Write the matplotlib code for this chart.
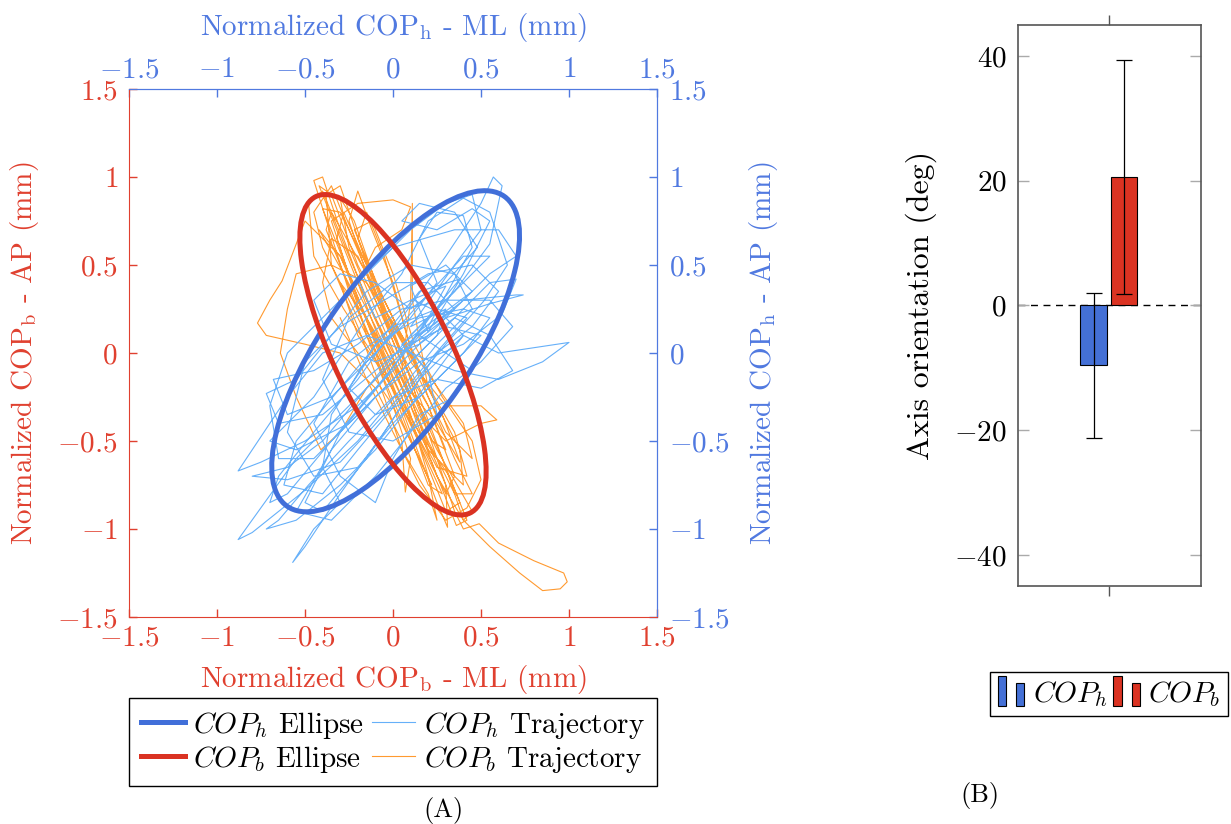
import numpy as np
import matplotlib
matplotlib.use('Agg')
import matplotlib.pyplot as plt
from matplotlib.patches import Ellipse, Rectangle
from matplotlib.legend_handler import HandlerBase

plt.rcParams['font.family'] = 'serif'
plt.rcParams['font.serif'] = ['cmr10', 'DejaVu Serif']
plt.rcParams['mathtext.fontset'] = 'cm'
plt.rcParams['axes.unicode_minus'] = False

# ---- panel A data: ellipses (center x, center y, full width, full height, angle deg)
ell_h = (0.015, 0.01, 2.15, 0.83, 55.0)
ell_b = (0.0, -0.01, 2.0, 0.66, 116.0)

# COP_h trajectory (approx.)
traj_h = [
    (0.10, 0.10), (0.35, 0.35), (0.55, 0.62), (0.62, 0.95), (0.57, 1.00), (0.50, 0.85),
    (0.30, 0.55), (0.05, 0.20), (-0.20, -0.15), (-0.45, -0.45), (-0.65, -0.70), (-0.70, -0.85),
    (-0.60, -0.80), (-0.35, -0.50), (-0.10, -0.20), (0.15, 0.10), (0.40, 0.30), (0.70, 0.33),
    (0.74, 0.33), (0.55, 0.28), (0.30, 0.20), (0.05, 0.00), (-0.25, -0.30), (-0.55, -0.60),
    (-0.88, -1.06), (-0.80, -1.02), (-0.50, -0.78), (-0.20, -0.50), (0.05, -0.20), (0.25, 0.05),
    (0.45, 0.25), (0.35, 0.45), (0.10, 0.50), (-0.15, 0.35), (-0.35, 0.10), (-0.55, -0.15),
    (-0.72, -0.23), (-0.65, -0.40), (-0.40, -0.35), (-0.10, -0.10), (0.20, 0.15), (0.45, 0.60),
    (0.40, 0.78), (0.25, 0.80), (0.15, 0.65), (0.25, 0.40), (0.10, 0.20), (-0.15, -0.05),
    (-0.35, -0.35), (-0.40, -0.65), (-0.30, -0.85), (-0.45, -1.00), (-0.57, -1.19), (-0.50, -1.10),
    (-0.30, -0.80), (-0.05, -0.45), (0.15, -0.15), (0.40, 0.10), (0.60, 0.00), (0.80, 0.03),
    (1.00, 0.06), (0.85, -0.05), (0.60, -0.15), (0.35, -0.10), (0.10, 0.00), (-0.15, 0.10),
    (-0.40, 0.00), (-0.60, -0.25), (-0.88, -0.67), (-0.75, -0.62), (-0.50, -0.50), (-0.20, -0.30),
    (0.05, -0.05), (0.30, 0.20), (0.55, 0.45), (0.70, 0.55), (0.60, 0.70), (0.35, 0.70),
    (0.00, 0.60), (-0.20, 0.42), (-0.10, 0.20), (0.10, 0.30), (0.30, 0.38), (0.20, 0.20),
    (-0.05, -0.15), (-0.30, -0.45), (-0.50, -0.85), (-0.40, -0.90), (-0.15, -0.60), (0.05, -0.30),
    (0.25, 0.00), (0.45, 0.15), (0.60, 0.35), (0.45, 0.50), (0.20, 0.45), (-0.05, 0.30),
    (-0.30, 0.15), (-0.50, -0.05), (-0.60, -0.45), (-0.45, -0.70), (-0.20, -0.65), (0.00, -0.40),
    (0.20, -0.20), (0.40, 0.00), (0.55, 0.20), (0.40, 0.25), (0.15, 0.20), (-0.10, 0.05),
    (-0.25, -0.20), (-0.10, -0.35), (0.15, -0.25), (0.35, -0.05), (0.50, 0.10), (0.30, 0.15),
    (0.10, 0.05), (0.28, 0.30), (0.38, 0.42), (0.15, 0.35), (-0.05, 0.10), (-0.30, -0.20),
    (-0.55, -0.50), (-0.62, -0.75), (-0.40, -0.80), (-0.20, -0.55), (0.05, -0.25), (0.30, 0.05),
    (0.52, 0.30), (0.65, 0.50), (0.55, 0.80), (0.40, 0.88), (0.20, 0.75), (0.05, 0.45),
    (-0.15, 0.20), (-0.45, -0.25), (-0.70, -0.50), (-0.55, -0.55), (-0.25, -0.40), (0.00, -0.15),
    (0.25, 0.10), (0.30, 0.25), (0.10, 0.15), (0.35, 0.50), (0.50, 0.70), (0.45, 0.90),
    (0.30, 0.85), (0.10, 0.70), (-0.10, 0.50), (-0.35, 0.25), (-0.60, 0.00), (-0.70, -0.30),
    (-0.65, -0.60), (-0.45, -0.60), (-0.20, -0.35), (0.05, -0.10), (0.30, 0.15), (0.55, 0.40),
    (0.70, 0.42), (0.62, 0.22), (0.40, 0.05), (0.15, -0.05), (-0.10, -0.25), (-0.35, -0.55),
    (-0.55, -0.90), (-0.35, -0.95), (-0.10, -0.70), (0.10, -0.45), (0.30, -0.20), (0.50, -0.05),
    (0.68, 0.15), (0.55, 0.30), (0.30, 0.30), (0.05, 0.25), (-0.20, 0.05), (-0.45, -0.10),
    (-0.68, -0.15), (-0.60, -0.35), (-0.35, -0.25), (-0.10, 0.00), (0.15, 0.28), (0.40, 0.55),
    (0.55, 0.55), (0.35, 0.35), (0.10, 0.10), (-0.15, -0.20), (-0.40, -0.50), (-0.60, -0.65),
    (-0.80, -0.70), (-0.60, -0.72), (-0.30, -0.62), (-0.05, -0.35), (0.20, -0.05), (0.42, 0.20),
    (0.25, 0.25), (0.00, 0.15), (-0.25, -0.05), (-0.45, -0.40), (-0.30, -0.70), (-0.10, -0.85),
    (0.00, -0.60), (0.15, -0.35), (0.35, -0.25), (0.45, -0.10), (0.30, 0.00), (0.15, 0.10),
    (0.35, 0.25), (0.20, 0.40), (0.00, 0.40), (-0.25, 0.20), (-0.40, -0.15), (-0.25, -0.45),
    (0.00, -0.50), (0.25, -0.35), (0.20, -0.10), (0.05, 0.05), (0.25, 0.20), (0.45, 0.35),
    (0.30, 0.50), (0.10, 0.38), (0.20, 0.12), (0.40, 0.45), (0.55, 0.75), (0.45, 0.82),
    (0.25, 0.70), (0.05, 0.75), (0.15, 0.85), (0.35, 0.80), (0.48, 0.60), (0.30, 0.40),
    (0.10, 0.25), (-0.10, 0.40), (-0.30, 0.45), (-0.45, 0.30), (-0.35, 0.05), (-0.10, -0.05),
    (0.15, 0.05), (0.35, 0.20), (0.55, 0.10), (0.68, -0.10), (0.50, -0.20), (0.25, -0.15),
    (0.00, -0.25), (-0.25, -0.50), (-0.48, -0.75), (-0.65, -0.95), (-0.72, -1.00), (-0.55, -0.95),
    (-0.30, -0.75), (-0.10, -0.55), (0.10, -0.30), (0.25, -0.10), (0.40, 0.10), (0.28, 0.22),
    (0.12, 0.30),
]

# COP_b trajectory (approx.)
traj_b = [
    (0.00, 0.00), (-0.20, 0.40), (-0.38, 0.85), (-0.42, 0.95), (-0.35, 0.90), (-0.20, 0.50),
    (0.00, 0.10), (0.20, -0.30), (0.35, -0.70), (0.30, -0.80), (0.15, -0.50), (-0.05, -0.10),
    (-0.25, 0.35), (-0.45, 0.98), (-0.40, 1.00), (-0.30, 0.70), (-0.15, 0.30), (0.05, -0.15),
    (0.25, -0.55), (0.45, -0.90), (0.40, -0.95), (0.25, -0.70), (0.10, -0.30), (-0.10, 0.15),
    (-0.30, 0.55), (-0.50, 0.75), (-0.63, 0.41), (-0.70, 0.30), (-0.77, 0.17), (-0.72, 0.10),
    (-0.50, 0.05), (-0.30, 0.00), (-0.10, -0.20), (0.05, -0.50), (0.07, -0.79), (0.10, -0.60),
    (0.00, -0.30), (-0.15, 0.10), (-0.30, 0.60), (-0.35, 0.75), (-0.20, 0.85), (0.00, 0.87),
    (0.10, 0.83), (0.05, 0.70), (-0.10, 0.60), (-0.20, 0.40), (-0.05, 0.00), (0.15, -0.40),
    (0.30, -0.75), (0.31, -0.99), (0.25, -0.85), (0.10, -0.45), (-0.05, -0.05), (-0.20, 0.30),
    (-0.32, 0.65), (-0.28, 0.80), (-0.15, 0.50), (0.00, 0.20), (0.10, -0.05), (0.30, -0.30),
    (0.50, -0.30), (0.59, -0.38), (0.50, -0.40), (0.30, -0.50), (0.20, -0.40), (0.05, -0.10),
    (-0.10, 0.25), (-0.25, 0.60), (-0.30, 0.88), (-0.22, 0.75), (-0.08, 0.35), (0.05, 0.00),
    (0.20, -0.45), (0.35, -0.90), (0.40, -1.00), (0.49, -0.97), (0.60, -1.08), (0.80, -1.18),
    (0.97, -1.25), (0.99, -1.30), (0.95, -1.34), (0.85, -1.35), (0.72, -1.25), (0.55, -1.10),
    (0.40, -0.95), (0.30, -0.65), (0.15, -0.25), (0.00, 0.10), (-0.15, 0.45), (-0.35, 0.80),
    (-0.38, 0.70), (-0.20, 0.25), (-0.05, -0.10), (0.12, -0.45), (0.28, -0.80), (0.20, -0.75),
    (0.05, -0.35), (-0.10, 0.05), (-0.25, 0.45), (-0.40, 0.82), (-0.30, 0.80), (-0.10, 0.40),
    (0.10, 0.00), (0.20, -0.20), (0.11, 0.30), (0.11, 0.85), (0.10, 0.30), (0.05, -0.10),
    (0.20, -0.55), (0.40, -0.75), (0.38, -0.55), (0.20, -0.20), (0.00, 0.15), (-0.20, 0.55),
    (-0.35, 0.65), (-0.40, 0.40), (-0.35, 0.20), (-0.20, 0.00), (0.00, -0.30), (0.15, -0.60),
    (0.22, -0.75), (0.10, -0.50), (-0.05, -0.15), (-0.10, 0.00), (-0.25, 0.30), (-0.40, 0.60),
    (-0.45, 0.80), (-0.35, 0.95), (-0.25, 0.70), (-0.10, 0.35), (0.05, 0.00), (0.15, -0.30),
    (0.28, -0.60), (0.38, -0.85), (0.30, -0.90), (0.18, -0.60), (0.05, -0.25), (-0.10, 0.10),
    (-0.28, 0.45), (-0.42, 0.70), (-0.30, 0.55), (-0.15, 0.20), (0.00, -0.15), (0.12, -0.40),
    (0.25, -0.65), (0.42, -0.70), (0.35, -0.45), (0.15, -0.10), (-0.05, 0.25), (-0.20, 0.65),
    (-0.15, 0.80), (-0.05, 0.55), (0.05, 0.20), (0.15, -0.15), (0.30, -0.45), (0.45, -0.60),
    (0.40, -0.40), (0.22, -0.15), (0.05, 0.10), (-0.15, 0.40), (-0.35, 0.50), (-0.55, 0.45),
    (-0.60, 0.25), (-0.64, 0.00), (-0.55, -0.25), (-0.41, -0.55), (-0.30, -0.45), (-0.15, -0.20),
    (0.00, -0.05), (0.10, -0.35), (0.20, -0.70), (0.25, -0.95), (0.20, -0.80), (0.05, -0.55),
    (-0.05, -0.25), (-0.20, 0.15), (-0.35, 0.50), (-0.38, 0.90), (-0.30, 0.95), (-0.18, 0.60),
    (-0.05, 0.20), (0.10, -0.20), (0.22, -0.50), (0.30, -0.55), (0.20, -0.30), (0.05, -0.05),
    (-0.10, 0.30), (-0.25, 0.75), (-0.20, 0.92), (-0.12, 0.70), (0.00, 0.40), (0.08, 0.10),
    (0.20, -0.25), (0.35, -0.60), (0.45, -0.80), (0.35, -0.80), (0.20, -0.50), (0.05, -0.15),
    (-0.15, 0.20), (-0.30, 0.40), (-0.20, 0.10), (0.00, -0.20), (0.15, -0.45), (0.32, -0.70),
    (0.42, -0.95), (0.36, -0.98), (0.22, -0.62), (0.05, -0.30), (-0.12, 0.00), (-0.28, 0.25),
    (-0.45, 0.55), (-0.48, 0.85), (-0.40, 0.92), (-0.25, 0.55), (-0.08, 0.15), (0.08, -0.20),
    (0.25, -0.40), (0.38, -0.62), (0.28, -0.35), (0.12, -0.05), (-0.05, 0.30), (-0.22, 0.70),
    (-0.12, 0.75), (0.00, 0.45), (0.12, 0.05), (0.28, -0.25), (0.45, -0.50), (0.50, -0.72),
    (0.42, -0.88), (0.30, -0.95), (0.15, -0.75), (0.00, -0.45), (-0.15, -0.15), (-0.30, 0.20),
]

ticks_a = [-1.5, -1, -0.5, 0, 0.5, 1, 1.5]
tick_labels_a = ['$-1.5$', '$-1$', '$-0.5$', '$0$', '$0.5$', '$1$', '$1.5$']

# ---- panel B data
bar_names = ['$COP_h$', '$COP_b$']
bar_mean = [-9.6, 20.6]
bar_std = [11.6, 18.8]
bar_pos = [-0.17, 0.16]
ticks_b = [-40, -20, 0, 20, 40]

red_ax = '#e0402f'
blue_ax = '#5079e0'
red_ell = '#da3222'
blue_ell = '#416fd9'
c_traj_h = '#66b0f9'
c_traj_b = '#ff9a30'
bar_colors = ['#4470d6', '#db3322']

FS = 21


class TwoBars(HandlerBase):
    def create_artists(self, legend, orig_handle, xdescent, ydescent,
                       width, height, fontsize, trans):
        fc = orig_handle.get_facecolor()
        r1 = Rectangle((-xdescent, -ydescent - 0.1 * height), 0.3 * width, 1.25 * height,
                       facecolor=fc, edgecolor='black', lw=0.8, transform=trans)
        r2 = Rectangle((-xdescent + 0.62 * width, -ydescent - 0.1 * height), 0.3 * width, 0.95 * height,
                       facecolor=fc, edgecolor='black', lw=0.8, transform=trans)
        return [r1, r2]


fig = plt.figure(figsize=(12.31, 8.24), dpi=100)

# ---------------- panel A
ax = fig.add_axes([0.1048, 0.2512, 0.4289, 0.6408])
ax.set_xlim(-1.5, 1.5)
ax.set_ylim(-1.5, 1.5)

th = np.array(traj_h)
tb = np.array(traj_b)
l_th, = ax.plot(th[:, 0], th[:, 1], color=c_traj_h, lw=0.8, zorder=2)
l_tb, = ax.plot(tb[:, 0], tb[:, 1], color=c_traj_b, lw=0.8, zorder=1)

for (cx, cy, w, h, ang), col in [(ell_h, blue_ell), (ell_b, red_ell)]:
    ax.add_patch(Ellipse((cx, cy), w, h, angle=ang, fill=False, edgecolor=col, lw=3.6, zorder=3))
l_eh, = ax.plot([], [], color=blue_ell, lw=3.6)
l_eb, = ax.plot([], [], color=red_ell, lw=3.6)

ax.set_xticks(ticks_a, tick_labels_a)
ax.set_yticks(ticks_a, tick_labels_a)
ax.tick_params(direction='in', length=6, width=1, colors=red_ax, labelsize=FS,
               top=False, right=False)
ax.tick_params(axis='x', pad=6)
ax.tick_params(axis='y', pad=8)
ax.spines['left'].set_color(red_ax)
ax.spines['bottom'].set_color(red_ax)
ax.spines['top'].set_color(blue_ax)
ax.spines['right'].set_color(blue_ax)
ax.set_xlabel(r'Normalized COP$_\mathrm{b}$ - ML (mm)', color=red_ax, fontsize=FS, labelpad=8)
ax.set_ylabel(r'Normalized COP$_\mathrm{b}$ - AP (mm)', color=red_ax, fontsize=FS, labelpad=12)

secx = ax.secondary_xaxis('top')
secx.set_xticks(ticks_a, tick_labels_a)
secx.tick_params(direction='in', length=6, width=1, colors=blue_ax, labelsize=FS, pad=4)
secx.spines['top'].set_color(blue_ax)
secx.set_xlabel(r'Normalized COP$_\mathrm{h}$ - ML (mm)', color=blue_ax, fontsize=FS, labelpad=16)

secy = ax.secondary_yaxis('right')
secy.set_yticks(ticks_a, tick_labels_a)
secy.tick_params(direction='in', length=6, width=1, colors=blue_ax, labelsize=FS, pad=9)
secy.spines['right'].set_color(blue_ax)
secy.set_ylabel(r'Normalized COP$_\mathrm{h}$ - AP (mm)', color=blue_ax, fontsize=FS, labelpad=12)

leg = ax.legend([l_eh, l_eb, l_th, l_tb],
                ['$COP_h$ Ellipse', '$COP_b$ Ellipse', '$COP_h$ Trajectory', '$COP_b$ Trajectory'],
                ncol=2, loc='center', bbox_to_anchor=(0.5, -0.237), fontsize=FS,
                frameon=True, fancybox=False, edgecolor='black', framealpha=1,
                handlelength=1.5, columnspacing=0.25, handletextpad=0.3,
                labelspacing=0.1, borderpad=0.4, borderaxespad=0)
leg.get_frame().set_linewidth(1.0)

fig.text(0.36, 0.016, '(A)', fontsize=19, ha='center', va='center')

# ---------------- panel B
axb = fig.add_axes([0.8267, 0.2888, 0.1487, 0.6812])
axb.axhline(0, color='black', lw=1.0, ls=(0, (5, 4)), zorder=0.5)
bars = []
for i in range(2):
    b = axb.bar(bar_pos[i], bar_mean[i], width=0.29, color=bar_colors[i], edgecolor='black',
                lw=0.8, yerr=bar_std[i], capsize=6,
                error_kw=dict(elinewidth=0.9, capthick=0.9, ecolor='black'), zorder=2)
    bars.append(b[0])
axb.set_xlim(-1, 1)
axb.set_ylim(-45, 45)
axb.set_yticks(ticks_b, ['$%d$' % t for t in ticks_b])
axb.set_xticks([0], [''])
axb.tick_params(axis='y', direction='in', left=True, right=True, length=8, width=1,
                color='#aaaaaa', labelsize=FS, pad=8)
axb.tick_params(axis='x', direction='out', top=True, bottom=True, length=7, width=1,
                color='#555555')
for s in axb.spines.values():
    s.set_color('#555555')
    s.set_linewidth(1.2)
axb.set_ylabel('Axis orientation (deg)', fontsize=23, labelpad=12)

legb = axb.legend(bars, bar_names, ncol=2, loc='center', bbox_to_anchor=(0.5, -0.192),
                  fontsize=FS, handler_map={Rectangle: TwoBars()},
                  frameon=True, fancybox=False, edgecolor='black', framealpha=1,
                  handlelength=1.0, handleheight=0.9, columnspacing=0.2, handletextpad=0.2,
                  borderpad=0.25, borderaxespad=0)
legb.get_frame().set_linewidth(1.0)

fig.text(0.796, 0.035, '(B)', fontsize=19, ha='center', va='center')

fig.savefig('out.png', dpi=100)
